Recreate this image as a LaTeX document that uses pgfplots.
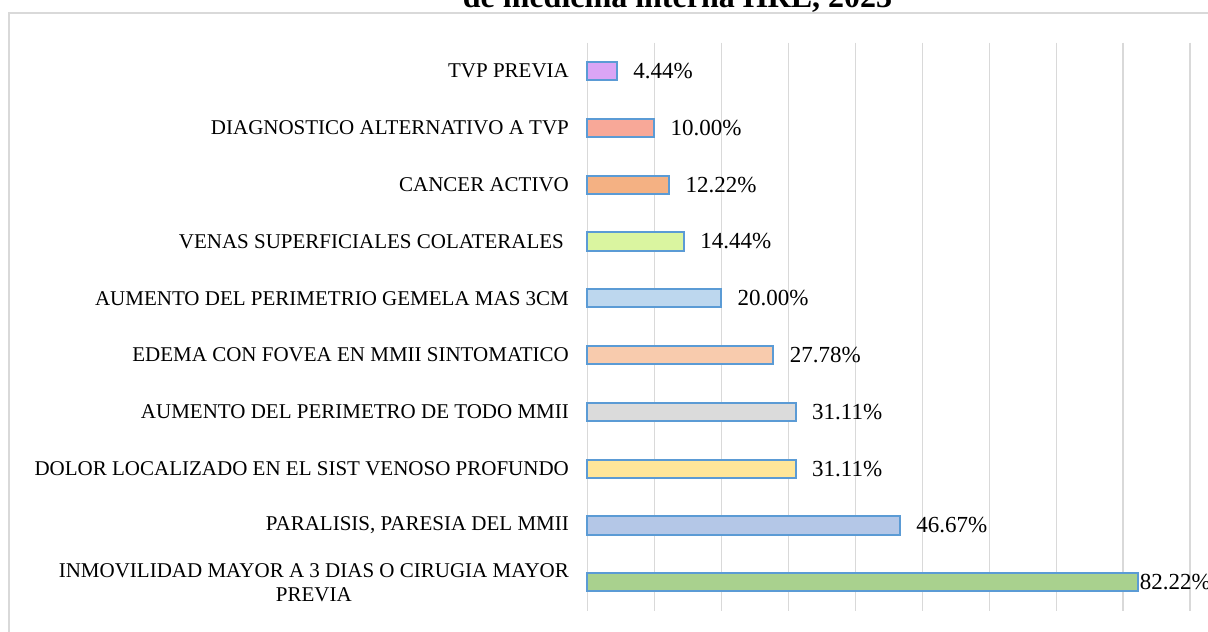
\documentclass[border=0pt]{standalone}
\usepackage{fontspec}
\setmainfont{Liberation Serif}
\usepackage{pgfplots}
\pgfplotsset{compat=1.18}
\definecolor{edge}{HTML}{5B9BD5}
\definecolor{gridc}{HTML}{D9D9D9}
\definecolor{cA}{HTML}{DAA5F5}
\definecolor{cB}{HTML}{F8A898}
\definecolor{cC}{HTML}{F4B183}
\definecolor{cD}{HTML}{DAF5A0}
\definecolor{cE}{HTML}{BDD7EE}
\definecolor{cF}{HTML}{F8CBAD}
\definecolor{cG}{HTML}{DBDBDB}
\definecolor{cH}{HTML}{FFE699}
\definecolor{cI}{HTML}{B4C7E7}
\definecolor{cJ}{HTML}{A9D18E}
\begin{document}
\begin{tikzpicture}[x=1pt,y=1pt]
\useasboundingbox (0,0) rectangle (604,315.5);
\clip (0,0) rectangle (604,315.5);
\draw[color=gridc, line width=1pt] (4.5,-20) -- (4.5,309) -- (700,309);
\node[anchor=base, inner sep=0pt, font=\fontsize{16}{19}\selectfont\bfseries] at (338.75,311.75) {de medicina interna HRL, 2023};
\begin{axis}[
  at={(293.65pt,10.15pt)}, anchor=south west,
  scale only axis, width=301.5pt, height=284pt,
  xbar, bar width=9.15pt, bar shift=0pt,
  xmin=0, xmax=90, ymin=-0.5, ymax=9.5, y dir=reverse,
  xtick={0,10,...,90}, xticklabels={},
  xmajorgrids, grid style={color=gridc, line width=0.8pt},
  major tick length=0pt, axis line style={draw=none},
  ytick={0,...,9},
  yticklabels={TVP PREVIA, DIAGNOSTICO ALTERNATIVO A TVP, CANCER ACTIVO, {VENAS SUPERFICIALES COLATERALES\rule{2.5pt}{0pt}}, AUMENTO DEL PERIMETRIO GEMELA MAS 3CM, EDEMA CON FOVEA EN MMII SINTOMATICO, AUMENTO DEL PERIMETRO DE TODO MMII, DOLOR LOCALIZADO EN EL SIST VENOSO PROFUNDO, {PARALISIS, PARESIA DEL MMII}, {INMOVILIDAD MAYOR A 3 DIAS O CIRUGIA MAYOR\\PREVIA}},
  yticklabel style={align=center, anchor=east, inner sep=0pt, xshift=-9pt, font=\fontsize{10.5}{12}\selectfont},
  clip=false,
  point meta=explicit symbolic,
  nodes near coords,
  every node near coord/.append style={anchor=west, inner sep=0pt, xshift=7.7pt, font=\fontsize{11.5}{13}\selectfont, text=black},
]
\addplot[fill=cA, draw=edge, line width=1pt] coordinates {(4.44,0) [4.44\%]};
\addplot[fill=cB, draw=edge, line width=1pt] coordinates {(10.00,1) [10.00\%]};
\addplot[fill=cC, draw=edge, line width=1pt] coordinates {(12.22,2) [12.22\%]};
\addplot[fill=cD, draw=edge, line width=1pt] coordinates {(14.44,3) [14.44\%]};
\addplot[fill=cE, draw=edge, line width=1pt] coordinates {(20.00,4) [20.00\%]};
\addplot[fill=cF, draw=edge, line width=1pt] coordinates {(27.78,5) [27.78\%]};
\addplot[fill=cG, draw=edge, line width=1pt] coordinates {(31.11,6) [31.11\%]};
\addplot[fill=cH, draw=edge, line width=1pt] coordinates {(31.11,7) [31.11\%]};
\addplot[fill=cI, draw=edge, line width=1pt] coordinates {(46.67,8) [46.67\%]};
\addplot[fill=cJ, draw=edge, line width=1pt, every node near coord/.append style={xshift=-7.4pt}] coordinates {(82.22,9) [82.22\%]};
\end{axis}
\end{tikzpicture}
\end{document}
